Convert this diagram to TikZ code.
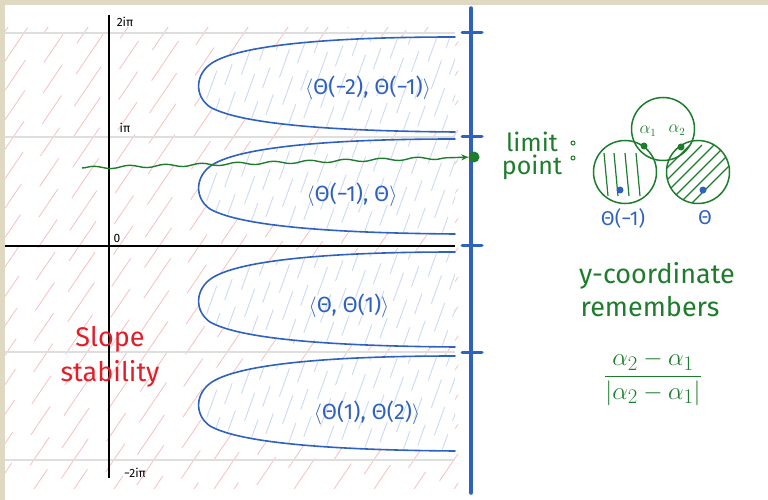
\documentclass[tikz,border=0pt]{standalone}
\usepackage{fontspec}
\setmainfont{Fira Sans}
\usetikzlibrary{arrows.meta,decorations.pathmorphing}
\definecolor{framec}{RGB}{223,217,196}
\definecolor{inkblue}{RGB}{47,98,190}
\definecolor{inkgreen}{RGB}{30,125,45}
\definecolor{inkred}{RGB}{228,30,40}
\definecolor{pinkh}{RGB}{248,192,192}
\definecolor{blueh}{RGB}{205,218,243}
\definecolor{gridg}{RGB}{222,222,222}
\newcommand\tongue[1]{(455,#1-51) .. controls (330,#1-51) and (240,#1-43) .. (212,#1-25) .. controls (195,#1-14) and (194,#1+8) .. (210,#1+19) .. controls (240,#1+36) and (330,#1+43) .. (455,#1+44)}
\tikzset{
  pinkhatch/.style={pinkh, line width=0.8pt, dash pattern=on 34pt off 26pt on 48pt off 34pt},
  bluehatch/.style={blueh, line width=0.9pt, dash pattern=on 30pt off 14pt on 22pt off 18pt},
  gridline/.style={gridg, line width=1.3pt},
  axisline/.style={black, line width=1.6pt},
  tongueline/.style={inkblue, line width=1.6pt, line cap=round},
  tonguelabel/.style={inkblue, font=\fontsize{22}{24}\selectfont},
  axislabel/.style={black, font=\fontsize{12}{14}\selectfont},
  greentext/.style={inkgreen, font=\fontsize{27}{30}\selectfont},
  redtext/.style={inkred, font=\fontsize{27}{30}\selectfont, anchor=base},
  ball/.style={circle, draw=inkgreen, line width=1.5pt, minimum size=63pt, inner sep=0pt},
  tick/.style={inkblue, line width=3pt, line cap=round},
}
\begin{document}
\begin{tikzpicture}[x=1pt,y=-1pt]
\useasboundingbox (0,0) rectangle (768,500);
\fill[framec] (0,0) rectangle (768,500);
\fill[white] (5,5) rectangle (768,500);
% pink hatching
\begin{scope}
\clip (5,28) rectangle (458,488);
\foreach \i [count=\k] in {-330,-310,...,470} {
  \pgfmathsetmacro\ph{mod(\k*37,140)}
  \draw[pinkhatch, dash phase=\ph pt] (\i,495) -- ++(333,-490);
}
\end{scope}
% grid lines
\foreach \yy in {33,137,352,460} \draw[gridline] (5,\yy) -- (455,\yy);
% axes
\draw[axisline] (5,246) -- (455,246);
\draw[axisline] (109,15) -- (109,478);
% tongues
\foreach \m in {88,190,303,407} {
  \fill[white] \tongue{\m} -- cycle;
  \begin{scope}
    \clip \tongue{\m} -- cycle;
    \foreach \i [count=\k] in {150,163,...,470} {
      \pgfmathsetmacro\ph{mod(\k*29,84)}
      \draw[bluehatch, dash phase=\ph pt] (\i,\m+60) -- ++(45,-125);
    }
  \end{scope}
  \draw[tongueline] \tongue{\m};
}
% labels
\node[tonguelabel] (t1) at (368,88) {$\langle$Θ(−2), Θ(−1)$\rangle$};
\node[tonguelabel] (t2) at (352,195) {$\langle$Θ(−1), Θ$\rangle$};
\node[tonguelabel] (t3) at (349,306) {$\langle$Θ, Θ(1)$\rangle$};
\node[tonguelabel] (t4) at (367,413) {$\langle$Θ(1), Θ(2)$\rangle$};
\node[axislabel] (l2) at (125,22) {2iπ};
\node[axislabel] (l1) at (125,128) {iπ};
\node[axislabel] (l0) at (117,238) {0};
\node[axislabel] (lm) at (135,473) {−2iπ};
\node[redtext] (slope) at (110,346) {Slope};
\node[redtext] (stab) at (110,381) {stability};
% blue line
\draw[inkblue, line width=3.5pt, line cap=round] (471,8) -- (471,493);
\foreach \yy in {33,137,245,352} \draw[tick] (462,\yy) -- (482,\yy);
% limit point
\node[circle, fill=inkgreen, minimum width=10pt, minimum height=11pt, inner sep=0pt] (lp) at (474,157) {};
\coordinate (ws) at (82,168);
\draw[inkgreen, line width=1.4pt, decorate, decoration={snake, amplitude=1.4pt, segment length=36pt, post length=9pt}, -{Stealth[length=7pt,width=6pt]}] (ws) -- (lp);
\node[inkgreen, font=\fontsize{25}{28}\selectfont, anchor=base] (lim) at (532,151) {limit};
\node[inkgreen, font=\fontsize{25}{28}\selectfont, anchor=base] (pnt) at (532,174) {point};
\draw[inkgreen, line width=1pt] (573,143) circle (2) (573,158) circle (2);
% circles
\node[ball] (ctop) at (663,129) {};
\node[ball] (cl) at (625,172) {};
\node[ball] (cr) at (698,172) {};
\begin{scope}
\clip (625,172) circle (31.5);
\foreach \xx in {604,614,625,636} \draw[inkgreen, line width=1.2pt] (\xx,153) -- (\xx+4,196);
\end{scope}
\begin{scope}
\clip (698,172) circle (31.5);
\foreach \s in {-30,-18,...,36} \draw[inkgreen, line width=1.2pt] (690+\s-30,205) -- (690+\s+30,145);
\end{scope}
\fill[inkgreen] (644,146) circle (3.5) (681,147) circle (3.5);
\fill[inkblue] (620,190) circle (3.5) (703,190) circle (3.5);
\node[inkgreen, font=\fontsize{16}{18}\selectfont] (a1) at (648,131) {$\alpha_1$};
\node[inkgreen, font=\fontsize{16}{18}\selectfont] (a2) at (677,130) {$\alpha_2$};
\node[inkblue, font=\fontsize{20}{22}\selectfont] (thm) at (623,218) {Θ(−1)};
\node[inkblue, font=\fontsize{20}{22}\selectfont] (th) at (705,218) {Θ};
% remembers
\node[greentext] (yc) at (657,276) {y-coordinate};
\node[greentext] (rem) at (650,307) {remembers};
\node[inkgreen, font=\fontsize{28}{32}\selectfont] (frac) at (653,378) {$\displaystyle\frac{\alpha_2-\alpha_1}{|\alpha_2-\alpha_1|}$};
\end{tikzpicture}
\end{document}
